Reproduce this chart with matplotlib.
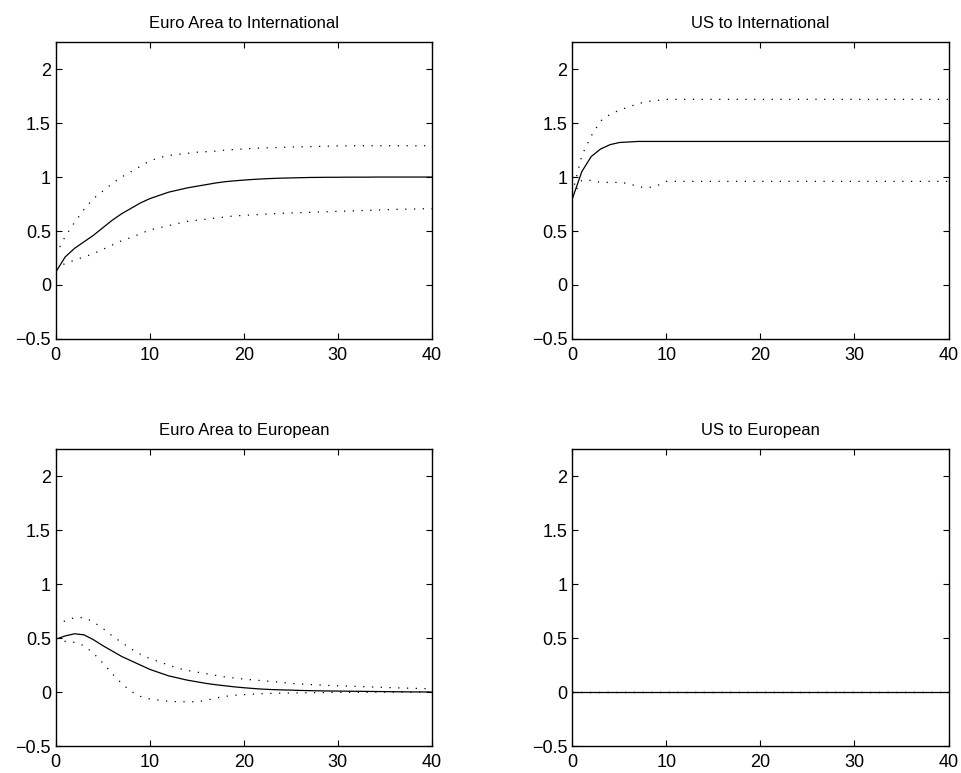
import matplotlib
matplotlib.use('Agg')
import matplotlib.pyplot as plt
import numpy as np

plt.rcParams['font.family'] = ['Liberation Sans', 'DejaVu Sans']

# 时间轴 0..40
t = np.arange(41)

# Euro Area to International
ea_int = [0.12, 0.26, 0.34, 0.40, 0.46, 0.53, 0.60, 0.66, 0.71, 0.76, 0.80,
          0.83, 0.86, 0.88, 0.90, 0.915, 0.93, 0.945, 0.957, 0.965, 0.972,
          0.978, 0.983, 0.987, 0.99, 0.992, 0.994, 0.996, 0.997, 0.998, 0.998,
          0.999, 0.999, 0.999, 1.0, 1.0, 1.0, 1.0, 1.0, 1.0, 1.0]
ea_int_up = [0.28, 0.45, 0.58, 0.70, 0.80, 0.87, 0.94, 1.00, 1.05, 1.10, 1.15,
             1.18, 1.20, 1.21, 1.22, 1.23, 1.235, 1.24, 1.25, 1.255, 1.26,
             1.265, 1.27, 1.272, 1.275, 1.278, 1.28, 1.282, 1.284, 1.286, 1.288,
             1.289, 1.29, 1.29, 1.29, 1.29, 1.29, 1.29, 1.29, 1.29, 1.29]
ea_int_lo = [0.15, 0.20, 0.23, 0.26, 0.29, 0.33, 0.37, 0.41, 0.44, 0.475, 0.51,
             0.53, 0.55, 0.57, 0.59, 0.60, 0.61, 0.62, 0.63, 0.64, 0.645,
             0.65, 0.655, 0.66, 0.664, 0.667, 0.67, 0.673, 0.676, 0.679, 0.682,
             0.685, 0.688, 0.691, 0.694, 0.697, 0.70, 0.702, 0.704, 0.706, 0.707]

# US to International
us_int = [0.80, 1.05, 1.19, 1.26, 1.30, 1.32, 1.325] + [1.33] * 34
us_int_up = [0.85, 1.20, 1.38, 1.52, 1.58, 1.62, 1.65, 1.68, 1.70, 1.71] + [1.72] * 31
us_int_lo = [0.82, 0.97, 0.97, 0.95, 0.95, 0.95, 0.94, 0.91, 0.90, 0.92] + [0.96] * 31

# Euro Area to European
ea_eu = [0.49, 0.52, 0.54, 0.53, 0.485, 0.43, 0.38, 0.33, 0.29, 0.25, 0.21,
         0.18, 0.15, 0.13, 0.11, 0.095, 0.08, 0.068, 0.058, 0.048, 0.04,
         0.033, 0.027, 0.023, 0.02, 0.018, 0.015, 0.013, 0.011, 0.01, 0.009,
         0.008, 0.007, 0.006, 0.005, 0.004, 0.003, 0.002, 0.001, 0.001, 0.0]
ea_eu_up = [0.62, 0.66, 0.69, 0.69, 0.65, 0.59, 0.52, 0.46, 0.40, 0.35, 0.31,
            0.28, 0.25, 0.22, 0.20, 0.185, 0.17, 0.155, 0.14, 0.13, 0.12,
            0.112, 0.105, 0.098, 0.09, 0.08, 0.075, 0.07, 0.065, 0.061, 0.058,
            0.055, 0.052, 0.049, 0.046, 0.043, 0.04, 0.037, 0.035, 0.032, 0.03]
ea_eu_lo = [0.48, 0.47, 0.46, 0.43, 0.36, 0.27, 0.17, 0.08, 0.006, -0.04, -0.064,
            -0.076, -0.085, -0.09, -0.09, -0.09, -0.076, -0.055, -0.04, -0.03, -0.024,
            -0.019, -0.015, -0.012, -0.01, -0.009, -0.007, -0.006, -0.005, -0.004, -0.003,
            -0.003, -0.002, -0.002, -0.001, -0.001, -0.001, 0.0, 0.0, 0.0, 0.0]

# US to European
us_eu = [0.0] * 41
us_eu_up = [0.0] * 41
us_eu_lo = [0.0] * 41

titles = ['Euro Area to International', 'US to International',
          'Euro Area to European', 'US to European']
panels = [(ea_int, ea_int_up, ea_int_lo),
          (us_int, us_int_up, us_int_lo),
          (ea_eu, ea_eu_up, ea_eu_lo),
          (us_eu, us_eu_up, us_eu_lo)]

fig = plt.figure(figsize=(9.62, 7.73), dpi=100)
positions = [[0.058, 0.5615, 0.391, 0.384],
             [0.595, 0.5615, 0.391, 0.384],
             [0.058, 0.0349, 0.391, 0.384],
             [0.595, 0.0349, 0.391, 0.384]]

for pos, title, (mid, up, lo) in zip(positions, titles, panels):
    ax = fig.add_axes(pos)
    ax.plot(t, mid, color='k', lw=0.9)
    ax.plot(t, up, color='k', lw=0.9, linestyle=(0, (1, 6)))
    ax.plot(t, lo, color='k', lw=0.9, linestyle=(0, (1, 6)))
    ax.set_xlim(0, 40)
    ax.set_ylim(-0.5, 2.25)
    ax.set_xticks([0, 10, 20, 30, 40])
    ax.set_yticks([-0.5, 0, 0.5, 1, 1.5, 2])
    ax.set_yticklabels(['\u22120.5', '0', '0.5', '1', '1.5', '2'])
    ax.tick_params(direction='in', top=True, right=True, length=4, labelsize=13, width=0.8)
    ax.tick_params(axis='x', pad=6)
    for s in ax.spines.values():
        s.set_linewidth(1.0)
    ax.set_title(title, fontsize=12, pad=10)

plt.savefig('out.png', dpi=100)
